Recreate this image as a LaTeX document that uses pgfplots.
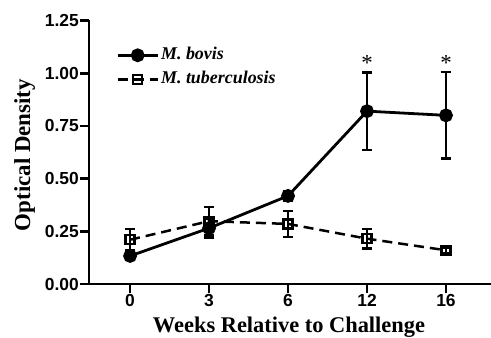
\documentclass[border=0pt]{standalone}
\usepackage{fontspec}
\setmainfont{Liberation Serif}
\newfontfamily\arialf{Liberation Sans}
\usepackage{pgfplots}
\pgfplotsset{compat=1.18}
\begin{document}
\begin{tikzpicture}[x=1bp,y=1bp]
\useasboundingbox (0,0) rectangle (491,337);
\begin{axis}[
  scale only axis,
  width=402bp, height=263.5bp,
  at={(89bp,53bp)}, anchor=south west,
  xmin=-0.52, xmax=4.57,
  ymin=0, ymax=1.25,
  axis lines=left,
  axis line style={-, line width=2.8bp},
  tick align=outside,
  major tick length=9bp,
  tick style={line width=2.8bp, black},
  xtick={0,1,2,3,4},
  xticklabels={0,3,6,12,16},
  ytick={0,0.25,0.5,0.75,1,1.25},
  yticklabels={0.00,0.25,0.50,0.75,1.00,1.25},
  tick label style={font=\arialf\bfseries\fontsize{17.5}{18}\selectfont},
  xticklabel style={inner sep=1.5bp},
  yticklabel style={inner sep=1bp},
  clip=false,
  legend cell align=left,
  legend style={at={(axis description cs:0.06,0.918)}, anchor=north west,
    draw=none, fill=none, font=\bfseries\itshape\fontsize{18}{18}\selectfont,
    nodes={inner sep=2bp, text height=13bp, text depth=5bp},
    row sep=2bp},
  legend image code/.code={
    \draw[mark repeat=2,mark phase=2,#1] plot coordinates {(0bp,0bp) (20bp,0bp) (40bp,0bp)};
  },
]
\addplot[black, line width=2.8bp, mark=*, mark size=5.5bp, mark options={solid, fill=black},
  error bars/.cd, y dir=both, y explicit,
  error bar style={line width=2.4bp, solid},
  error mark options={rotate=90, mark size=5bp, line width=2.4bp, solid}]
  coordinates {
  (0,0.133) +- (0,0.02)
  (1,0.265) +- (0,0.045)
  (2,0.418) +- (0,0.022)
  (3,0.820) +- (0,0.183)
  (4,0.800) +- (0,0.205)
};
\addlegendentry{M. bovis}
\addplot[black, line width=2.5bp, dash pattern=on 10bp off 6bp, mark=square, mark size=4.5bp, mark options={solid, fill=white, line width=2.3bp},
  error bars/.cd, y dir=both, y explicit,
  error bar style={line width=2.4bp, solid},
  error mark options={rotate=90, mark size=5bp, line width=2.4bp, solid}]
  coordinates {
  (0,0.210) +- (0,0.052)
  (1,0.298) +- (0,0.068)
  (2,0.285) +- (0,0.062)
  (3,0.215) +- (0,0.047)
  (4,0.160) +- (0,0.012)
};
\addlegendentry{M. tuberculosis}
\node[font=\fontsize{23}{23}\selectfont] at (axis cs:3,1.05) {*};
\node[font=\fontsize{23}{23}\selectfont] at (axis cs:4,1.05) {*};
\end{axis}
\node[rotate=90, font=\bfseries\fontsize{23}{23}\selectfont, anchor=base] at (30bp,182bp) {Optical Density};
\node[font=\bfseries\fontsize{22.5}{22.5}\selectfont, anchor=base] at (289bp,5bp) {Weeks Relative to Challenge};
\end{tikzpicture}
\end{document}
